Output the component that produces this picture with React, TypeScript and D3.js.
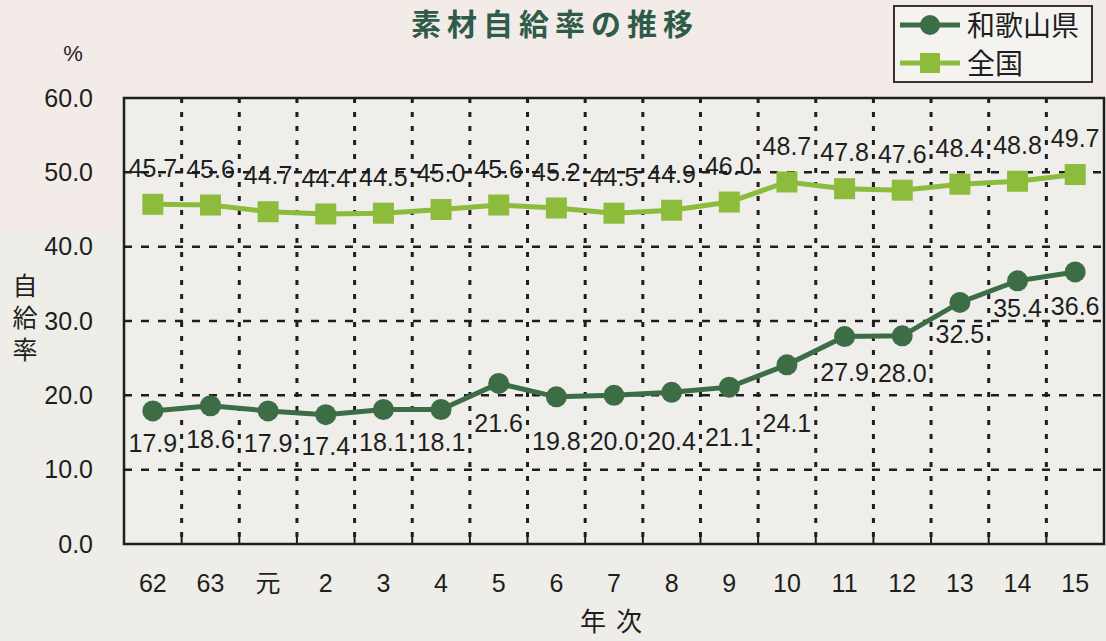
import React from "react";
import * as d3 from "d3";

const categories = ["62", "63", "元", "2", "3", "4", "5", "6", "7", "8", "9", "10", "11", "12", "13", "14", "15"];
const wakayama = [17.9, 18.6, 17.9, 17.4, 18.1, 18.1, 21.6, 19.8, 20.0, 20.4, 21.1, 24.1, 27.9, 28.0, 32.5, 35.4, 36.6];
const national = [45.7, 45.6, 44.7, 44.4, 44.5, 45.0, 45.6, 45.2, 44.5, 44.9, 46.0, 48.7, 47.8, 47.6, 48.4, 48.8, 49.7];
const yTicks = [0, 10, 20, 30, 40, 50, 60];
// label vertical offsets (px) below points for 和歌山県 labels
const wakayamaLabelDy = [32, 34, 32, 32, 32.5, 32.5, 40, 44, 46, 49, 50, 58, 36, 37, 32, 27, 34];

const W = 1106;
const H = 641;
const left = 124;
const right = 1104;
const top = 98;
const bottom = 544;

const DARK = "#3c6d44";
const LIGHT = "#8dbb3b";
const INK = "#1e1e1e";
const FONT = "'Liberation Sans', Arial, 'Noto Sans CJK JP', sans-serif";
const CJK = "'Noto Sans CJK JP', sans-serif";

export default function App() {
  const x = d3.scaleBand<string>().domain(categories).range([left, right]).padding(0);
  const y = d3.scaleLinear().domain([0, 60]).range([bottom, top]);
  const cx = (c: string) => (x(c) as number) + x.bandwidth() / 2;

  const line = d3
    .line<number>()
    .x((_, i) => cx(categories[i]))
    .y((d) => y(d));

  const boundaries = categories.slice(1).map((c) => x(c) as number);

  return (
    <svg
      width={W}
      height={H}
      style={{ position: "absolute", left: 0, top: 0, display: "block" }}
      fontFamily={FONT}
    >
      <rect x={0} y={0} width={W} height={H} fill="#eeede8" />
      <rect x={0} y={0} width={W} height={230} fill="#f2ebe7" />
      <rect x={left} y={top} width={right - left} height={bottom - top} fill="#efeeea" />

      {/* title */}
      <text
        x={555}
        y={35}
        textAnchor="middle"
        fontFamily={CJK}
        fontWeight={700}
        fontSize={30}
        letterSpacing={6}
        fill="#2f5b4b"
      >
        素材自給率の推移
      </text>

      {/* horizontal grid */}
      {yTicks
        .filter((t) => t > 0 && t < 60)
        .map((t) => (
          <line
            key={"h" + t}
            x1={left}
            x2={right}
            y1={y(t)}
            y2={y(t)}
            stroke={INK}
            strokeWidth={2.5}
            strokeDasharray="8 9"
          />
        ))}
      {/* vertical grid */}
      {boundaries.map((bx, i) => (
        <line
          key={"v" + i}
          x1={bx}
          x2={bx}
          y1={top}
          y2={bottom}
          stroke={INK}
          strokeWidth={3}
          strokeDasharray="5 9"
        />
      ))}
      {boundaries.map((bx, i) => (
        <line key={"t" + i} x1={bx} x2={bx} y1={bottom - 7} y2={bottom} stroke={INK} strokeWidth={2} />
      ))}

      {/* frame */}
      <rect x={left} y={top} width={right - left} height={bottom - top} fill="none" stroke={INK} strokeWidth={2.5} />

      {/* y tick labels */}
      {yTicks.map((t) => (
        <text key={"yt" + t} x={93} y={y(t)} dy="0.35em" textAnchor="end" fontSize={25} fill={INK}>
          {t.toFixed(1)}
        </text>
      ))}
      <text x={73} y={53} dy="0.35em" textAnchor="middle" fontSize={22} fill={INK}>
        %
      </text>
      <text
        x={25}
        y={273}
        fontFamily={CJK}
        fontSize={25}
        fill={INK}
        letterSpacing={7}
        style={{ writingMode: "vertical-rl" as any }}
      >
        自給率
      </text>

      {/* x tick labels */}
      {categories.map((c) => (
        <text
          key={"xt" + c}
          x={cx(c)}
          y={583}
          dy="0.35em"
          textAnchor="middle"
          fontSize={25}
          fontFamily={c === "元" ? CJK : FONT}
          fill={INK}
        >
          {c}
        </text>
      ))}
      <text x={612} y={622} dy="0.35em" textAnchor="middle" fontFamily={CJK} fontSize={26} fill={INK} letterSpacing={2}>
        年 次
      </text>

      {/* national */}
      <path d={line(national) || ""} fill="none" stroke={LIGHT} strokeWidth={5} />
      {national.map((v, i) => (
        <rect key={"n" + i} x={cx(categories[i]) - 10.5} y={y(v) - 10.5} width={21} height={21} fill={LIGHT} />
      ))}
      {national.map((v, i) => (
        <text key={"nl" + i} x={cx(categories[i])} y={y(v) - 36} dy="0.35em" textAnchor="middle" fontSize={25} fill={INK}>
          {v.toFixed(1)}
        </text>
      ))}

      {/* wakayama */}
      <path d={line(wakayama) || ""} fill="none" stroke={DARK} strokeWidth={5} />
      {wakayama.map((v, i) => (
        <circle key={"w" + i} cx={cx(categories[i])} cy={y(v)} r={10.5} fill={DARK} />
      ))}
      {wakayama.map((v, i) => (
        <text
          key={"wl" + i}
          x={cx(categories[i])}
          y={y(v) + wakayamaLabelDy[i]}
          dy="0.35em"
          textAnchor="middle"
          fontSize={25}
          fill={INK}
        >
          {v.toFixed(1)}
        </text>
      ))}

      {/* legend */}
      <rect x={894} y={6} width={198} height={76} fill="#f4f3f0" stroke="#333" strokeWidth={2} />
      <line x1={900} x2={960} y1={25} y2={25} stroke={DARK} strokeWidth={5} />
      <circle cx={930} cy={25} r={10} fill={DARK} />
      <text x={967} y={26} dy="0.35em" fontFamily={CJK} fontSize={28} fill={INK}>
        和歌山県
      </text>
      <line x1={900} x2={960} y1={63} y2={63} stroke={LIGHT} strokeWidth={5} />
      <rect x={920} y={53} width={20} height={20} fill={LIGHT} />
      <text x={967} y={64} dy="0.35em" fontFamily={CJK} fontSize={28} fill={INK}>
        全国
      </text>
    </svg>
  );
}
